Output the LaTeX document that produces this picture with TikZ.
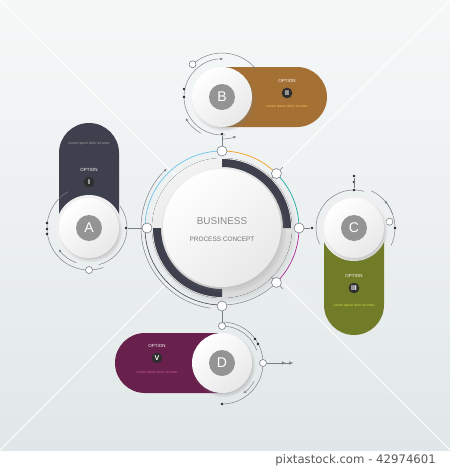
\documentclass[tikz,border=0pt]{standalone}
\usepackage{fontspec}
\setmainfont{Liberation Sans}
\newfontfamily\stockfont{DejaVu Sans}
\usetikzlibrary{shadows,arrows.meta}
\definecolor{bgtop}{RGB}{246,248,248}
\definecolor{bgbot}{RGB}{225,231,232}
\definecolor{slate}{RGB}{62,64,77}
\definecolor{bronze}{RGB}{164,112,52}
\definecolor{mossgreen}{RGB}{112,124,40}
\definecolor{plum}{RGB}{104,32,76}
\definecolor{wire}{RGB}{120,126,134}
\definecolor{lineblue}{RGB}{110,195,235}
\definecolor{lineorange}{RGB}{245,160,35}
\definecolor{lineteal}{RGB}{30,170,155}
\definecolor{linemagenta}{RGB}{170,40,150}

\begin{document}
\begin{tikzpicture}[x=0.03cm, y=0.03cm,
  disc/.style={circle, minimum size=1.8cm, inner sep=0pt, top color=white, bottom color=black!9, shading angle=40,
    circular drop shadow={shadow xshift=1.2pt, shadow yshift=-1.8pt, shadow scale=1.07, opacity=.35}},
  halo/.style={circle, minimum size=1.98cm, inner sep=0pt, fill=black!6},
  letter/.style={circle, minimum size=0.78cm, inner sep=0pt, fill=black!42, text=white, font=\fontsize{12}{12}\selectfont},
  numeral/.style={circle, minimum size=0.32cm, inner sep=0pt, fill=black!82, text=white, font=\bfseries\fontsize{6}{6}\selectfont},
  option/.style={text=white, font=\fontsize{3.8}{4}\selectfont},
  lorem/.style={font=\fontsize{2.9}{3}\selectfont},
  port/.style={circle, draw=wire, fill=white, line width=0.5pt, inner sep=0pt, minimum size=0.3cm},
  knob/.style={port, minimum size=0.21cm},
  bullet/.style={circle, fill=black!85, inner sep=0pt, minimum size=2.2pt},
  link/.style={draw=wire, line width=0.4pt},
  arrowed/.style={-{Latex[length=2.6pt,width=2.2pt]}}]
\useasboundingbox (0,0) rectangle (450,-469);
\fill[white] (0,-450) rectangle (450,-469);
\shade[top color=bgtop, bottom color=bgbot] (0,0) rectangle (450,-450);
\draw[white, line width=0.7pt] (0,0) -- (450,-450) (450,0) -- (0,-450);
\node[anchor=east, text=black!65, font=\stockfont\fontsize{10}{10}\selectfont] (stock) at (440,-460) {pixtastock.com - 42974601};

\fill[slate] (59,-228) -- (59,-153) arc (180:0:30) -- (119,-228) -- cycle;
\fill[bronze] (222,-67) -- (297,-67) arc (90:-90:30) -- (222,-127) -- cycle;
\fill[mossgreen] (324,-228) -- (324,-305) arc (180:360:30) -- (384,-228) -- cycle;
\fill[plum] (222,-333) -- (145,-333) arc (90:270:30) -- (222,-393) -- cycle;

\begin{scope}[shift={(222,-228)}]
\fill[top color=black!5, bottom color=black!15, shading angle=30,
  circular drop shadow={shadow xshift=1.5pt, shadow yshift=-2pt, shadow scale=1.05, opacity=.3}] (0,0) circle (70);
\fill[slate] (90:69) arc (90:0:69) -- (0:61) arc (0:90:61) -- cycle;
\fill[slate] (180:69) arc (180:270:69) -- (270:61) arc (270:180:61) -- cycle;
\draw[link] (-45:77) arc (-45:-90:77);
\draw[lineblue, line width=0.6pt] (180:77) arc (180:90:77);
\draw[lineorange, line width=0.6pt] (90:77) arc (90:45:77);
\draw[lineteal, line width=0.6pt] (45:77) arc (45:0:77);
\draw[linemagenta, line width=0.6pt] (0:77) arc (0:-45:77);
\draw[slate, line width=0.5pt] (180:77) arc (180:270:77);
\draw[link, arrowed] (262:81) arc (262:133:81);
\draw[link] (45:69) -- (45:86) (-45:69) -- (-45:86);
\node[port] (ptop) at (90:77) {};
\node[port] (pne) at (45:77) {};
\node[port] (pright) at (0:77) {};
\node[port] (pse) at (-45:77) {};
\node[port] (pbottom) at (270:78) {};
\node[port] (pleft) at (180:75) {};
\end{scope}
\node[disc, minimum size=3.54cm] (m) at (222,-228) {};
\node[text=black!45, font=\fontsize{8.5}{9}\selectfont] (title) at (222,-221) {BUSINESS};
\node[text=black!55, font=\fontsize{5.5}{6}\selectfont] (subtitle) at (222,-239) {PROCESS CONCEPT};

\draw[link] (89,-228) ++(120:42) arc (120:290:42);
\draw[link] (89,-228) ++(-75:38) arc (-75:35:38);
\draw[link, arrowed] (89,-228) ++(250:37) arc (250:215:37);
\node[bullet] (a1) at (47,-223) {};
\node[bullet] (a2) at (47,-229) {};
\node[bullet] (a3) at (47,-234) {};
\node[knob] (ka) at (89,-270) {};
\node[bullet] (ea) at (126,-228) {};
\draw[link] (ea) -- (pleft);

\draw[link] (222,-97) ++(132:44) arc (132:40:44);
\draw[link, arrowed] (222,-97) ++(150:38) arc (150:88:38);
\draw[link] (222,-97) ++(150:38) arc (150:275:38);
\draw[link, arrowed] (222,-97) ++(240:42) arc (240:210:42);
\draw[link, arrowed] (222,-97) ++(270:42) arc (270:290:42);
\node[knob] (kb) at (192.6,-64.3) {};
\node[bullet] (b1) at (184,-89) {};
\node[bullet] (b2) at (184,-97) {};
\node[bullet] (eb) at (222,-134) {};
\draw[link] (eb) -- (ptop);

\draw[link] (354,-228) ++(205:38) arc (205:75:38);
\draw[link] (354,-228) ++(65:41) arc (65:-25:41);
\draw[link, arrowed] (354,-228) ++(20:41) arc (20:42:41);
\node[knob] (kc) at (389.5,-221.7) {};
\node[bullet] (c1) at (395,-228) {};
\node[bullet] (c2) at (354,-176) {};
\node[bullet] (c3) at (354,-182) {};
\node[bullet] (c4) at (354,-190) {};
\draw[link] (c4) -- (c2);
\node[bullet] (ec) at (312,-228) {};
\draw[link] (pright) -- (ec);

\draw[link] (222,-363) ++(90:41) arc (90:-90:41);
\draw[link] (222,-363) ++(90:37) arc (90:20:37);
\draw[link, arrowed] (222,-363) ++(-30:37) arc (-30:-55:37);
\node[knob] (kd) at (222,-326) {};
\node[knob] (kd2) at (263,-363) {};
\coordinate (dend) at (293,-363);
\draw[link, -{Latex[length=3pt,width=3pt,sep=3.5pt]Latex[length=3pt,width=3pt]}] (kd2) -- (dend);
\node[bullet] (d1) at (255,-339) {};
\node[bullet] (d2) at (258,-344) {};
\node[bullet] (d3) at (222,-404) {};
\draw[link] (pbottom) -- (kd);

\node[halo] (hA) at (89,-228) {};
\node[halo] (hC) at (354,-228) {};
\node[disc] (A) at (89,-228) {};
\node[disc] (B) at (222,-97) {};
\node[disc] (C) at (354,-228) {};
\node[disc] (D) at (222,-363) {};
\node[letter] (a) at (A) {A};
\node[letter] (b) at (B) {B};
\node[letter] (c) at (C) {C};
\node[letter] (d) at (D) {D};

\node[lorem, text=black!35] (la) at (89,-144) {Lorem ipsum dolor sit amet};
\node[option] (oa) at (89,-170) {OPTION};
\node[numeral] (na) at (89,-182) {I};
\node[option] (ob) at (287,-81) {OPTION};
\node[numeral] (nb) at (287,-93) {II};
\node[lorem, text={rgb,255:red,240;green,200;blue,90}] (lb) at (287,-107) {Lorem ipsum dolor sit amet};
\node[option] (oc) at (354,-276) {OPTION};
\node[numeral] (nc) at (354,-288) {III};
\node[lorem, text={rgb,255:red,215;green,222;blue,70}] (lc) at (354,-306) {Lorem ipsum dolor sit amet};
\node[option] (od) at (157,-346) {OPTION};
\node[numeral] (nd) at (157,-358) {V};
\node[lorem, text={rgb,255:red,210;green,90;blue,160}] (ld) at (157,-373) {Lorem ipsum dolor sit amet};
\end{tikzpicture}
\end{document}
